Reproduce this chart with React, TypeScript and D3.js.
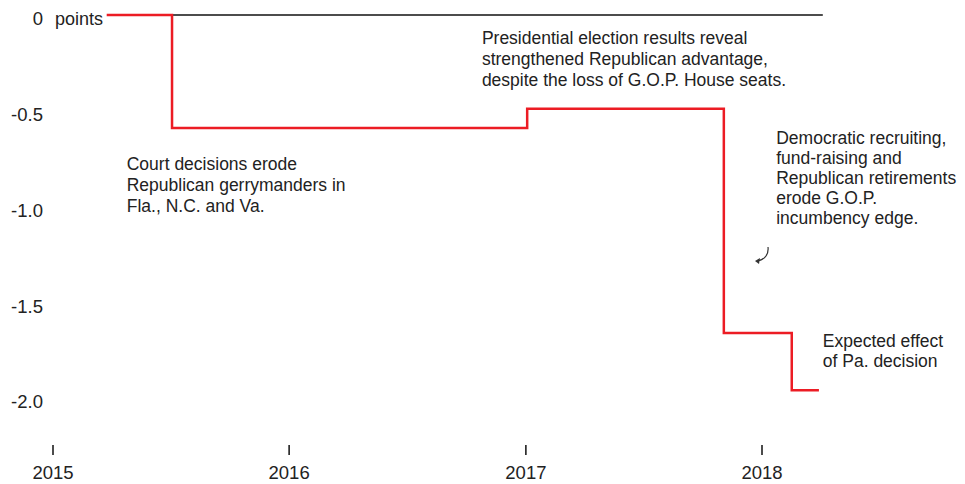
import React from "react";
import * as d3 from "d3";

const stepDates = ["2015-03-25", "2015-07-04", "2017-01-03", "2017-11-03", "2018-02-16", "2018-03-30"];
const stepValues = [0, -0.59, -0.49, -1.66, -1.96, -1.96];
const baselineDates = ["2015-07-04", "2018-04-05"];
const yTicks = [0, -0.5, -1.0, -1.5, -2.0];
const yTickLabels = ["0", "-0.5", "-1.0", "-1.5", "-2.0"];
const xTicks = ["2015-01-01", "2016-01-01", "2017-01-01", "2018-01-01"];
const xTickLabels = ["2015", "2016", "2017", "2018"];

const notes = [
  { lines: ["Presidential election results reveal", "strengthened Republican advantage,", "despite the loss of G.O.P. House seats."], date: "2016-10-25", v: -0.12, lh: 21 },
  { lines: ["Court decisions erode", "Republican gerrymanders in", "Fla., N.C. and Va."], date: "2015-04-25", v: -0.78, lh: 21 },
  { lines: ["Democratic recruiting,", "fund-raising and", "Republican retirements", "erode G.O.P.", "incumbency edge."], date: "2018-01-23", v: -0.64, lh: 20 },
  { lines: ["Expected effect", "of Pa. decision"], date: "2018-04-05", v: -1.7, lh: 20 },
];

export default function App() {
  const W = 965, H = 484;
  const parse = (s: string) => new Date(s + "T00:00:00");
  const x = d3.scaleTime().domain([parse("2015-01-01"), parse("2018-01-01")]).range([53, 762]);
  const y = d3.scaleLinear().domain([0, -2]).range([15, 398]);
  const pts: [number, number][] = stepDates.map((d, i) => [x(parse(d)), y(stepValues[i])]);
  const line = d3.line().curve(d3.curveStepAfter)(pts) || "";
  const font = "'Liberation Sans', Arial, sans-serif";
  const textColor = "#222";
  return (
    <svg width={W} height={H} style={{ position: "absolute", left: 0, top: 0, background: "#fff" }} fontFamily={font}>
      <rect width={W} height={H} fill="#fff" />
      {yTicks.map((t, i) => (
        <text key={i} x={43} y={y(t) + 4} dy="0.35em" textAnchor="end" fontSize={18.5} fill={textColor}>
          {yTickLabels[i]}
        </text>
      ))}
      <text x={55} y={y(0) + 4} dy="0.35em" fontSize={18} fill={textColor}>points</text>
      <line
        x1={x(parse(baselineDates[0]))}
        x2={x(parse(baselineDates[1]))}
        y1={y(0)}
        y2={y(0)}
        stroke="#111"
        strokeWidth={1.5}
      />
      <path d={line} fill="none" stroke="#ec1c24" strokeWidth={2.5} />
      {xTicks.map((t, i) => (
        <g key={i} transform={`translate(${x(parse(t))},0)`}>
          <line y1={445} y2={455} stroke="#111" strokeWidth={1.5} />
          <text y={473} dy="0.35em" textAnchor="middle" fontSize={18.5} fill={textColor}>{xTickLabels[i]}</text>
        </g>
      ))}
      {notes.map((n, i) => {
        const nx = x(parse(n.date));
        return (
          <text key={i} x={nx} y={0} fontSize={17.5} fill={textColor}>
            {n.lines.map((l, j) => (
              <tspan key={j} x={nx} y={y(n.v) + j * n.lh} dy="0.35em">{l}</tspan>
            ))}
          </text>
        );
      })}
      <path d="M768,247 C769,255 764,260 757,261" fill="none" stroke="#333" strokeWidth={1.2} />
      <path d="M755,261 L760,258 L759,264 Z" fill="#333" />
    </svg>
  );
}
